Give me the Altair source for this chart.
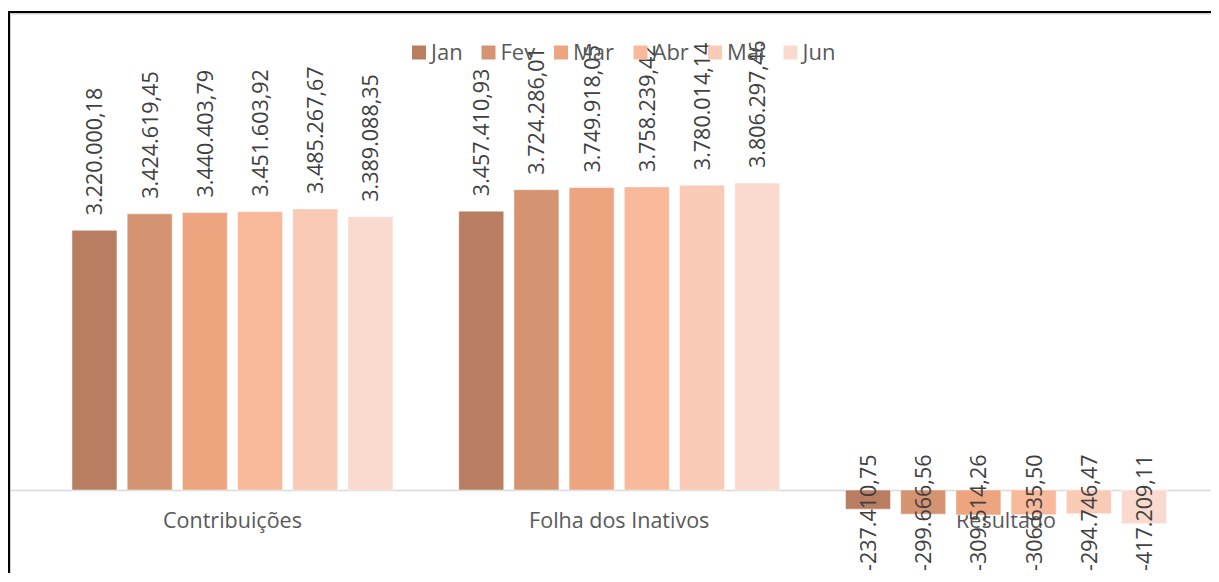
import altair as alt
import pandas as pd

categories = ["Contribuições", "Folha dos Inativos", "Resultado"]
months = ["Jan", "Fev", "Mar", "Abr", "Mai", "Jun"]
contribuicoes = [3220000.18, 3424619.45, 3440403.79, 3451603.92, 3485267.67, 3389088.35]
folha = [3457410.93, 3724286.01, 3749918.05, 3758239.42, 3780014.14, 3806297.46]
resultado = [-237410.75, -299666.56, -309514.26, -306635.50, -294746.47, -417209.11]
colors = ["#B97E62", "#D49371", "#EDA580", "#F8B89A", "#F9CAB5", "#FADACE"]

FONT = "Open Sans"


def br(v):
    s = f"{v:,.2f}"
    return s.replace(",", "X").replace(".", ",").replace("X", ".")


rows = []
for cat, vals in zip(categories, [contribuicoes, folha, resultado]):
    for m, v in zip(months, vals):
        rows.append({"categoria": cat, "mes": m, "valor": v, "rotulo": br(v)})
df = pd.DataFrame(rows)

W, H = 1203, 565
ZERO_Y = 482
PX_PER_UNIT = 80.65 / 1e6
y_top = ZERO_Y / PX_PER_UNIT
y_bottom = -(H - ZERO_Y) / PX_PER_UNIT

x = alt.X(
    "categoria:N",
    sort=categories,
    scale=alt.Scale(paddingInner=0, paddingOuter=0.0552, align=0.728),
    axis=alt.Axis(
        title=None, orient="bottom", offset=-(H - ZERO_Y), domainColor="#d9d9d9",
        domainWidth=1.5, ticks=False, labelAngle=0, labelFontSize=21.5, labelLimit=0,
        labelColor="#595959", labelPadding=20, labelFont=FONT, grid=False, zindex=0,
    ),
)
xo = alt.XOffset("mes:N", sort=months, scale=alt.Scale(paddingInner=0.185, paddingOuter=0.596))
y = alt.Y("valor:Q", scale=alt.Scale(domain=[y_bottom, y_top], nice=False, zero=False), axis=None)
color = alt.Color(
    "mes:N", sort=months, scale=alt.Scale(domain=months, range=colors),
    legend=alt.Legend(
        title=None, orient="none", legendX=400, legendY=33.5, direction="horizontal",
        symbolType="square", symbolSize=196, symbolStrokeWidth=0, symbolOpacity=1,
        labelFontSize=22, labelColor="#595959", labelFont=FONT,
        columnPadding=14.5, labelOffset=1, padding=0,
    ),
)

base = alt.Chart(df)

bars = base.mark_bar(stroke="white", strokeWidth=0.8, strokeOpacity=0.6).encode(x=x, xOffset=xo, y=y, color=color)

pos_labels = base.transform_filter("datum.valor > 0").mark_text(
    angle=270, align="left", baseline="middle", dx=15, dy=2, fontSize=21.5, font=FONT, color="#404040"
).encode(x=x, xOffset=xo, y=y, text="rotulo:N")

neg_labels = base.transform_filter("datum.valor < 0").mark_text(
    angle=270, align="left", baseline="middle", dy=2, fontSize=21.5, font=FONT, color="#404040"
).encode(x=x, xOffset=xo, y=alt.value(H - 2), text="rotulo:N")

frame_df = pd.DataFrame({"k": [0]})
frame = alt.Chart(frame_df)
left_black = frame.mark_rule(color="black", strokeWidth=2).encode(x=alt.value(1), y=alt.value(3), y2=alt.value(H))
top_black = frame.mark_rule(color="black", strokeWidth=2).encode(y=alt.value(4), x=alt.value(0), x2=alt.value(W))
left_gray = frame.mark_rule(color="#cfcfcf", strokeWidth=1).encode(x=alt.value(2.5), y=alt.value(5), y2=alt.value(H))
top_gray = frame.mark_rule(color="#cfcfcf", strokeWidth=1.5).encode(y=alt.value(5.75), x=alt.value(2), x2=alt.value(W))

chart = alt.layer(bars, pos_labels, neg_labels, left_gray, top_gray, left_black, top_black).properties(
    width=W, height=H,
    autosize=alt.AutoSizeParams(type="none"),
    padding={"left": 0, "top": 0, "right": 0, "bottom": 0},
    background="white",
).configure_view(stroke=None)

chart.save("out.html", embed_options={"renderer": "svg", "actions": False})
